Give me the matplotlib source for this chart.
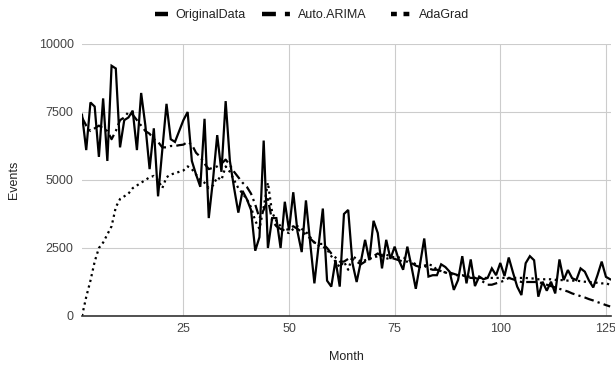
import numpy as np
import matplotlib
matplotlib.use("Agg")
import matplotlib.pyplot as plt
from matplotlib.lines import Line2D
from matplotlib.legend_handler import HandlerLine2D

plt.rcParams['font.family'] = ['Liberation Sans', 'DejaVu Sans']
plt.rcParams['lines.scale_dashes'] = False

original = [
    7400, 6100, 7850, 7700, 5850, 8000, 5700, 9200, 9100, 6200,
    7200, 7300, 7550, 6100, 8200, 7000, 5400, 6900, 4400, 6100,
    7800, 6500, 6400, 6800, 7200, 7500, 5700, 5200, 4750, 7250,
    3600, 5000, 6650, 5300, 7900, 5700, 4700, 3800, 4600, 4300,
    3900, 2400, 2900, 6450, 2500, 3600, 3600, 2500, 4200, 3150,
    4550, 3100, 2350, 4250, 2700, 1200, 2600, 3950, 1300, 1080,
    2050, 1080, 3750, 3900, 1950, 1250, 2000, 2800, 2050, 3500,
    3050, 1750, 2800, 2100, 2550, 2050, 1700, 2550, 1800, 1000,
    1900, 2850, 1450, 1500, 1500, 1900, 1800, 1630, 960, 1320,
    2200, 1200, 2080, 1100, 1450, 1350, 1400, 1750, 1500, 1950,
    1470, 2150, 1600, 1080, 770, 1940, 2200, 2050, 710, 1260,
    930, 1260, 830, 2080, 1320, 1690, 1390, 1320, 1750, 1630,
    1300, 1050, 1500, 2000, 1440, 1350,
]

auto_arima = [
    7300, 7000, 6800, 6900, 7000, 6900, 6800, 6500, 6800, 7200,
    7300, 7500, 7400, 7200, 7000, 6800, 6700, 6500, 6400, 6200,
    6200, 6250, 6250, 6280, 6300, 6400, 6300, 6000, 5850, 5600,
    5400, 5450, 5500, 5600, 5750, 5550, 5300, 5100, 4900, 4750,
    4500, 4100, 3600, 3900, 4300, 3500, 3300, 3200, 3150, 3200,
    3300, 3200, 3100, 3000, 2850, 2700, 2650, 2650, 2500, 2300,
    2150, 2000, 2000, 2100, 2100, 2000, 1900, 2000, 2100, 2200,
    2300, 2200, 2100, 2150, 2100, 2050, 2000, 2000, 1950, 1850,
    1800, 1850, 1750, 1700, 1700, 1650, 1600, 1600, 1550, 1500,
    1500, 1450, 1400, 1400, 1350, 1250, 1150, 1150, 1200, 1250,
    1300, 1400, 1350, 1300, 1250, 1250, 1250, 1250, 1250, 1200,
    1150, 1100, 1050, 1000, 950, 900, 830, 780, 730, 680,
    620, 570, 510, 460, 400, 350,
]

adagrad = [
    0, 700, 1300, 2000, 2500, 2700, 3000, 3300, 4000, 4300,
    4400, 4500, 4700, 4800, 4900, 5000, 5100, 5150, 5000, 4700,
    5100, 5200, 5250, 5300, 5350, 5500, 5400, 5200, 5000, 4900,
    4700, 4800, 5100, 5000, 5500, 5300, 5000, 4700, 4500, 4300,
    4000, 3500, 3200, 4000, 4900, 3800, 3500, 3300, 3100, 3050,
    3200, 3300, 3200, 3100, 2900, 2700, 2600, 2550, 2450, 2200,
    2000, 1800, 2000, 1700, 2200, 2100, 2000, 2050, 2100, 2150,
    2200, 2250, 2250, 2200, 2150, 2150, 2150, 2100, 2000, 1900,
    1800, 1850, 1900, 1850, 1700, 1650, 1600, 1550, 1500, 1500,
    1500, 1450, 1450, 1400, 1400, 1400, 1400, 1400, 1400, 1400,
    1400, 1400, 1400, 1400, 1400, 1400, 1380, 1380, 1350, 1350,
    1350, 1350, 1330, 1320, 1320, 1300, 1300, 1300, 1280, 1260,
    1250, 1230, 1220, 1200, 1200, 1150,
]

series_names = ["OriginalData", "Auto.ARIMA", "AdaGrad"]
x_ticks = [25, 50, 75, 100, 125]
y_ticks = [0, 2500, 5000, 7500, 10000]

fig = plt.figure(figsize=(6.15, 3.67), dpi=100)
ax = fig.add_axes([82/615, 1-316/367, (611-82)/615, (316-44)/367])

m_orig = np.arange(1, len(original) + 1)
m_arima = np.arange(1, len(auto_arima) + 1)
m_ada = np.arange(1, len(adagrad) + 1)

ax.plot(m_orig, original, color='black', lw=1.6, solid_joinstyle='miter', zorder=3)
ax.plot(m_arima, auto_arima, color='black', lw=1.6, linestyle=(0, (7, 3, 1.6, 3)), zorder=2)
ax.plot(m_ada, adagrad, color='black', lw=1.6, linestyle=(0, (1.6, 2.6)), zorder=2)

ax.set_xlim(1, 126.2)
ax.set_ylim(0, 10000)
ax.set_xticks(x_ticks)
ax.set_yticks(y_ticks)
ax.set_xticklabels([str(v) for v in x_ticks])
ax.set_yticklabels([str(v) for v in y_ticks])
ax.tick_params(axis='both', length=0, labelsize=9, labelcolor='#444444')
ax.tick_params(axis='y', pad=6)
ax.tick_params(axis='x', pad=5)
ax.grid(True, color='#cccccc', lw=0.8)
ax.set_axisbelow(True)
for s in ['top', 'right', 'left']:
    ax.spines[s].set_visible(False)
ax.spines['bottom'].set_color('#333333')
ax.spines['bottom'].set_linewidth(1.2)
ax.spines['bottom'].set_zorder(4)

fig.text(14/615, 1-180/367, "Events", rotation=90, ha='center', va='center', fontsize=9, color='#222222')
fig.text(346/615, 1-357/367, "Month", ha='center', va='center', fontsize=9, color='#222222')


class ShortHandler(HandlerLine2D):
    def __init__(self, frac, **kw):
        super().__init__(**kw)
        self.frac = frac

    def create_artists(self, legend, orig_handle, xdescent, ydescent, width, height, fontsize, trans):
        w = width * self.frac
        return super().create_artists(legend, orig_handle, xdescent - (width - w), ydescent,
                                      w, height, fontsize, trans)


handles = [
    Line2D([], [], color='black', lw=3.2, solid_capstyle='butt'),
    Line2D([], [], color='black', lw=3.2, linestyle=(0, (10, 6.5, 3.6, 6.5)), dash_capstyle='butt'),
    Line2D([], [], color='black', lw=3.2, linestyle=(0, (4.2, 4.8)), dash_capstyle='butt'),
]
leg = fig.legend(handles, series_names, loc='center', bbox_to_anchor=(304/615, 1-15/367),
                 ncol=3, frameon=False, fontsize=9, handlelength=2.3, handletextpad=0.6,
                 columnspacing=1.3,
                 handler_map={handles[0]: ShortHandler(0.42),
                              handles[1]: ShortHandler(1.0),
                              handles[2]: ShortHandler(0.7)})
for t in leg.get_texts():
    t.set_color('#222222')

fig.savefig("out.png", dpi=100)
